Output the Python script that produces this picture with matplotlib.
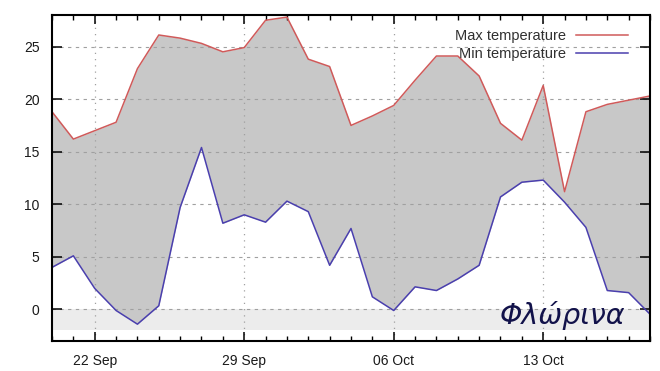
import matplotlib
matplotlib.use("Agg")
import matplotlib.pyplot as plt
import matplotlib.dates as mdates
import numpy as np
import datetime as dt

# ---- data ----
start_date = "2024-09-20"
max_temp = [18.8, 16.2, 17.0, 17.8, 22.9, 26.1, 25.8, 25.3, 24.5, 24.9,
            27.5, 27.8, 23.8, 23.1, 17.5, 18.4, 19.4, 21.8, 24.1, 24.1,
            22.2, 17.7, 16.1, 21.3, 11.2, 18.8, 19.5, 19.9, 20.3]
min_temp = [4.0, 5.1, 2.0, -0.1, -1.4, 0.35, 9.7, 15.4, 8.2, 9.0,
            8.3, 10.3, 9.3, 4.2, 7.7, 1.2, -0.1, 2.15, 1.8, 2.9,
            4.2, 10.7, 12.1, 12.3, 10.2, 7.8, 1.8, 1.6, -0.45]
xtick_dates = ["2024-09-22", "2024-09-29", "2024-10-06", "2024-10-13"]
ytick_values = [0, 5, 10, 15, 20, 25]
band_low, band_high = -2, 0
series_labels = ["Max temperature", "Min temperature"]
station = "Φλώρινα"

dates = np.arange(np.datetime64(start_date), np.datetime64(start_date) + len(max_temp)).astype("datetime64[D]").astype(dt.datetime)
xt = [dt.datetime.fromisoformat(d) for d in xtick_dates]

plt.rcParams['font.family'] = ['Liberation Sans', 'DejaVu Sans']

fig = plt.figure(figsize=(6.6, 3.71), dpi=100)
ax = fig.add_axes([52/660, 1-341/371, 598/660, 326/371])

ax.set_xlim(dates[0], dates[-1])
ax.set_ylim(-3, 28)

ax.axhspan(band_low, band_high, color='#ececec', zorder=0, lw=0)
ax.fill_between(dates, min_temp, max_temp, color='#c8c8c8', lw=0, zorder=1)
l1, = ax.plot(dates, max_temp, color='#d05a5a', lw=1.1, zorder=3)
l2, = ax.plot(dates, min_temp, color='#4a3fae', lw=1.1, zorder=3)

ax.set_xticks(xt)
ax.xaxis.set_major_formatter(mdates.DateFormatter('%d %b'))
ax.xaxis.set_minor_locator(mdates.DayLocator())
ax.set_yticks(ytick_values)

ax.grid(axis='y', which='major', color='#a0a0a0', ls=(0, (3, 4)), lw=0.8, zorder=2)
ax.grid(axis='x', which='major', color='#a0a0a0', ls=(0, (1, 4)), lw=0.9, zorder=2)

ax.tick_params(axis='x', which='major', direction='in', length=6.5, width=1.1,
               top=True, bottom=True, labelsize=10, pad=9.5, colors='black')
ax.tick_params(axis='x', which='minor', direction='in', length=3.5, width=1.0,
               top=True, bottom=True)
ax.tick_params(axis='y', which='major', direction='in', length=7.5, width=1.1,
               left=True, right=True, labelsize=10, pad=9)
ax.tick_params(axis='y', which='minor', left=False, right=False)
for lab in ax.get_xticklabels() + ax.get_yticklabels():
    lab.set_color('#1a1a1a')

for s in ax.spines.values():
    s.set_linewidth(1.5)
    s.set_color('black')
    s.set_zorder(5)

leg = ax.legend([l1, l2], series_labels, loc='upper right', frameon=False,
                markerfirst=False, handlelength=3.6, handletextpad=0.7, fontsize=10.5,
                bbox_to_anchor=(0.981, 0.988), labelspacing=0.3, borderaxespad=0.3)
for t in leg.get_texts():
    t.set_color('#303030')

ax.text(0.853, 0.052, station, transform=ax.transAxes, ha='center', va='baseline',
        fontsize=20.5, style='italic', family='DejaVu Sans', color='#12124a', zorder=6)

fig.savefig('out.png', dpi=100)
